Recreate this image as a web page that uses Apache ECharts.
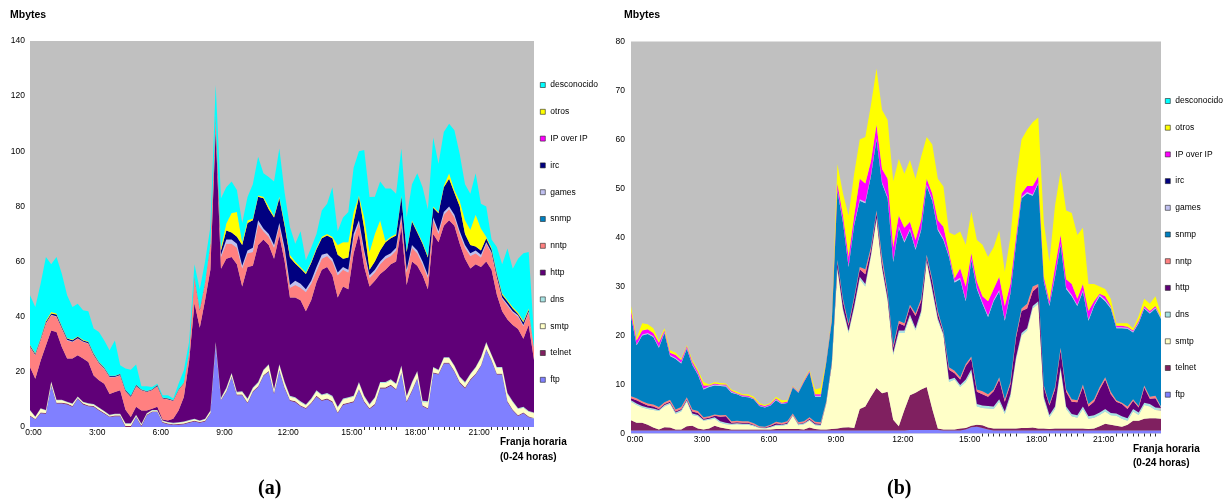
<!DOCTYPE html>
<html><head><meta charset="utf-8">
<script src="https://cdn.jsdelivr.net/npm/echarts@6/dist/echarts.min.js"></script>
<style>html,body{margin:0;padding:0;background:#fff}#c{width:1225px;height:501px}</style>
</head><body><div id="c"></div>
<script>
const cats = [
"0:00","0:15","0:30","0:45","1:00","1:15","1:30","1:45","2:00","2:15","2:30","2:45",
"3:00","3:15","3:30","3:45","4:00","4:15","4:30","4:45","5:00","5:15","5:30","5:45",
"6:00","6:15","6:30","6:45","7:00","7:15","7:30","7:45","8:00","8:15","8:30","8:45",
"9:00","9:15","9:30","9:45","10:00","10:15","10:30","10:45","11:00","11:15","11:30","11:45",
"12:00","12:15","12:30","12:45","13:00","13:15","13:30","13:45","14:00","14:15","14:30","14:45",
"15:00","15:15","15:30","15:45","16:00","16:15","16:30","16:45","17:00","17:15","17:30","17:45",
"18:00","18:15","18:30","18:45","19:00","19:15","19:30","19:45","20:00","20:15","20:30","20:45",
"21:00","21:15","21:30","21:45","22:00","22:15","22:30","22:45","23:00","23:15","23:30","23:45"];

const names = ["ftp","telnet","smtp","dns","http","nntp","snmp","games","irc","IP over IP","otros","desconocido"];

/* ---------- chart (a) ---------- */
const a_ftp = [3.9,2.7,5,4.8,15,8.5,8.5,8.2,7.3,10.3, 8.2,7.5,7.3,6,4.8,3.6,3.9,3.9,0,0, 3.6,0.2,4.2,5.4,5.4,1.5,1,0.8,0.8,1, 1.5,2,1.5,2,4.8,29.6,9.7,12.7,18,11.5, 11.5,8.6,12.7,14.5,18.5,20,12,20.5,14,9.5, 9,7.5,6.6,8.5,11,9.5,10,9,5,8, 8.5,9,13.5,9,6.5,8,14,14,15,13.5, 19.5,9,13,17.5,7.5,6.5,19.5,19,23,23, 20,16,14,17,19,22,28,24,19,19, 9,6,4,5,3.5,3];
const a_telnet = [.3,.2,.3,.3,.3,.3,.3,.3,.3,.2, .3,.3,.3,.3,.3,.2,.3,.3,.4,.4, .2,.3,.2,.2,.2,.3,.3,.2,.3,.3, .3,.3,.3,.3,.3,.3,.2,.3,.3,.3, .3,.3,.3,.3,.3,.3,.3,.3,.3,.3, .3,.3,.3,.3,.3,.3,.3,.3,.3,.3, .3,.3,.3,.3,.3,.3,.3,.3,.3,.3, .3,.3,.3,.3,.3,.3,.3,.3,.3,.3, .3,.3,.3,.3,.3,.3,.3,.3,.3,.3, .3,.3,.3,.3,.3,.3];
const a_smtp = [1.8,.7,1.3,.9,1.0,.9,.9,.5,.7,.4, .5,.6,.5,.6,.5,.4,.4,.4,.8,.8, .4,.5,.4,.4,.4,.4,.3,.3,.4,.5, .5,.5,.4,.5,.7,.6,.4,.9,1.0,.7, .9,1.1,1.0,1.2,1.7,2.2,1.2,1.7,1.7,1.2, 1.2,1.2,1.0,1.2,1.7,1.7,1.7,1.7,1.7,1.7, 1.7,1.7,2.2,1.7,1.2,2.2,1.7,1.7,1.7,1.7, 2.2,1.7,2.7,2.2,1.2,2.2,1.7,1.2,1.7,1.7, 1.7,1.7,1.7,1.7,2.2,2.7,2.2,1.7,2.2,2.2, 2.7,2.7,2.2,1.7,1.7,1.7];
const a_dns = [.2,.2,.2,.2,.2,.2,.2,.2,.2,.2, .2,.2,.2,.2,.2,.2,.2,.2,.2,.2, .2,.2,.2,.2,.2,.2,.2,.2,.2,.2, .2,.2,.2,.2,.2,.3,.3,.3,.3,.3, .3,.3,.3,.3,.3,.3,.3,.3,.3,.3, .3,.3,.3,.3,.3,.3,.3,.3,.3,.3, .3,.3,.3,.3,.3,.3,.3,.3,.3,.3, .3,.3,.3,.3,.5,.3,.3,.3,.3,.3, .3,.3,.3,.3,.3,.3,.3,.3,.3,.3, .3,.3,.3,.3,.3,.3];
const a_http = [15.6,13.7,17.2,23.4,18.5,24.6,19.1,15.6,16.3,14.9, 15.6,15,10.4,9.9,9.9,7.6,7.9,8.5,4.9,2.2, 2.9,4.8,1.0,0.4,1.1,0.3,0.6,1.5,4.3,8.9, 21.5,42,33.6,43,51,77.2,46.8,46.8,42.1,46.2, 38,47.7,44.2,49.7,47.2,43.2,47.2,46.7,43.7,35.7, 36.2,36.7,33.8,35.7,39.2,45.2,45.7,43.7,39.7,40.7, 39.2,51.7,53.7,46.7,42.7,42.2,39.2,40.7,41.7,44.2, 50.2,40.2,43.7,38.2,45.5,40.7,48.2,46.2,47.7,49.7, 50.7,48.2,44.7,38.2,37.2,32.7,29.2,30.7,26.2,20.2, 26.7,27.7,28.7,24.7,31.2,19];
const a_nntp = [7.2,8.5,7.4,7.9,5.5,5.5,6.7,6.6,6,6, 6,6.6,7.3,6,5.3,6,5.3,5.4,6.7,7.3, 7.5,7.3,6.7,6.7,7.5,7.6,7.6,6.4,7.3,4.8, 3,9,6,6,9,4,4.3,5.5,4.8,6, 6.5,5,5,7.5,3,3,4,3.5,3.5,3.5, 4.5,4.5,7,6,4,4,4,5,8,6, 6,5.5,4,5,3,3,3.5,4,3,4, 3.5,4.5,5,4.5,4,4,5,3,4,4, 3,3.5,4,4.5,4,3.5,6.5,6,6,4.5, 5,4.5,4.5,4.5,4.5,3.8];
const a_snmp = [0,0,0,0,0,0,0,0,0,0, 0,0,0,0,0,0,0,0,0,0, 0,0,0,0,0,0,0,0,0,0, 0,0,0,0,0,0,0,0,0,0, 0,0,0,0,0,0,0,0,0,0, 0,0,0,0,0,0,0,0,0,0, 0,0,0,0,0,0,0,0,0,0, 0,0,0,0,0,0,0,0,0,0, 0,0,0,0,0,0,0,0,0,0, 0,0,0,0,0,0];
const a_games = [.2,.2,.2,.2,.2,.2,.2,.2,.2,.2, .2,.2,.2,.2,.2,.2,.2,.2,.1,.1, .1,.1,.1,.1,.1,.1,.1,.1,.1,.1, .1,.2,.2,.2,.2,.3,.8,1.5,1.5,1.5, 1,1,1.5,1.5,1,1,1,1,1.5,1, 1.5,1.5,1,1,1.5,1.5,1,1,1,1, 1,1.5,1,1,1,1,1,1,1,1, 1,1,1,1,1,1,1,1,1,1, 1,1,1,1,1,1,.5,.5,.5,.5, .5,.5,.5,.5,.5,.3];
const a_irc = [.4,.4,.4,.5,.5,.6,.5,.5,.5,.5, .4,.4,.4,.3,.3,.3,.3,.3,.3,.3, .3,.2,.2,.2,.3,.2,.2,.2,.2,.2, .2,.3,.3,.3,.3,.7,1.5,3.3,2.5,2.5, 7.5,10,10,8.5,11,9,10,9,8,10, 6.3,5.5,5.5,6.5,6.5,6,6.5,7.5,6.5,3, 4.5,4.5,8.5,8,2,3,4,5,5.5,4.5, 6.5,6.5,8.5,6.5,6.5,6.5,3.5,6.5,9,10, 8,9,4,3,1.5,1.5,1.5,1,1,1, 1,1,.5,1,.5,.3];
const a_ipip = [0,0,0,0,0,0,0,0,0,0, 0,0,0,0,0,0,0,0,0,0, 0,0,0,0,0,0,0,0,0,0, 0,0,0,0,0,0,0,0,0,0, 0,0,0,0,0,0,0,0,0,0, 0,0,0,0,0,0,0,0,0,0, 0,0,0,0,0,0,0,0,0,0, 0,0,0,0,0,0,0,0,0,0, 0,0,0,0,0,0,0,0,0,0, 0,0,0,0,0,0];
const a_otros = [.2,.2,.3,.4,.5,.4,.2,.2,.2,.2, .2,.2,.2,.2,.2,.1,.1,.1,.1,.1, .1,.1,.1,.1,.1,.1,.1,.1,.1,.1, .1,.2,.2,.2,.2,.3,1,2.5,7.1,9, 1,1,.5,.5,.5,1,.5,.5,1,1, .7,.5,.5,.5,.5,.5,.5,.5,3.5,6, 5.5,3.5,.5,4,6.5,10,11,.5,.5,.5, .5,.5,.5,.5,.5,.5,.5,.5,.5,2, 1,2,5,5.5,11.5,8,.5,.5,.5,.5, .5,.5,.5,.5,.5,.3];
const a_desc = [18,16.7,19.7,23.1,17.3,20.5,19,15.5,11.8,11.8, 10.7,11,8.9,10.8,9.7,9.2,12.8,3.1,7.7,9.4, 7.4,1.1,1.7,.8,.4,.8,1.1,.5,2,4.5, 3.6,4.3,7.3,7.3,5.8,10.7,18,13.2,11.4,8, 7,8.4,12.5,14,8.5,10.7,12.5,17.5,11,10, 6.5,13,4.5,5,5,9.5,11,18,5,9, 11,16,16,24.5,19.9,13.5,14,19,17.5,14.6, 17,12,13,21,20,17,25,17.5,19.5,18, 21.6,17,13,13.1,15,9,11,3,9.3,10.5, 18.7,13.9,19.5,24.5,20.5,4.5];

/* ---------- chart (b) ---------- */
const b_ftp = [.6,.6,.6,.6,.6,.6,.6,.6,.6,.6, .6,.6,.6,.6,.6,.6,.6,.6,.6,.6, .6,.6,.6,.6,.6,.6,.6,.6,.6,.6, .6,.6,.6,.6,.6,.6,.6,.6,.6,.6, .6,.6,.6,.6,.6,.6,.6,.6,.6,.6, .7,.7,.7,.7,.7,.7,.6,.6,.6,.6, .8,1.3,1.4,1.1,.8,.6,.6,.6,.6,.6, .6,.6,.6,.6,.6,.6,.6,.6,.6,.6, .6,.6,.6,.6,.6,.6,.6,.6,.6,.6, .6,.6,.6,.6,.6,.6];
const b_telnet = [2.1,1.6,1.6,1.2,.6,.2,.7,.6,.2,.2, .9,1,.4,.2,.4,1,.6,.4,.2,.2, .2,.2,.2,.2,.2,.2,.3,.3,.3,.3, .3,.2,.6,.3,.2,.2,.3,.4,.6,.7, .5,4.4,4.9,6.9,8.7,7.6,7.9,2.2,.9,4.2, 7.1,7.6,8.3,8.8,4.3,.3,.2,.2,.2,.4, .3,.3,.4,.6,.4,.4,.4,.4,.4,.4, .5,.5,.6,.4,.4,.3,.4,.4,.4,.4, .4,.4,.3,.4,.9,1.4,1.2,1,.8,1.2, 2,2,2.4,2.5,2.5,2.4];
const b_smtp = [3.8,3.6,3.1,3.2,3.6,3.8,4.2,4.8,3.2,3.7, 5,2.2,2.5,1.8,1.8,1.4,1,.9,1,1.1, 1,1,.7,.3,.2,.4,.7,.7,.9,2.7, .8,1.1,1.4,.8,.8,5.2,13.1,32.5,23.8,19.2, 24.4,26.5,24.5,28.5,34.2,25.3,18.5,13.2,19,15.7, 16,12.7,15.5,25.5,24,22,19.2,9.7,10.2,8.5, 9.4,11,3.7,3.5,3.9,4,5.5,3,6.5,14, 18.9,19.9,24.3,25.5,6,2.4,4,12,4,2.5, 2.2,4,2.1,2.2,2.3,2.5,1.9,2,1.6,.8, 1.9,1.2,2.8,2.4,1.7,1.6];
const b_dns = [.3,.3,.3,.3,.3,.2,.3,.3,.3,.3, .3,.3,.3,.2,.2,.3,.3,.3,.2,.2, .2,.2,.2,.1,.1,.2,.2,.2,.2,.1, .2,.2,.2,.2,.2,.2,.2,.4,.5,.4, .5,.5,.5,.5,.5,.5,.5,.5,.5,.5, .5,.5,.5,.4,.5,.5,.3,.5,.4,.4, .5,.5,.5,.5,.5,.5,.5,.5,.5,.5, .5,.5,.5,.5,.5,.5,.5,.5,.5,.5, .5,.5,.5,.5,.5,.5,.5,.5,.5,.5, .5,.5,.5,.5,.5,.3];
const b_http = [.4,.7,.6,.4,.4,.2,.2,.2,.2,.2, .2,.4,.4,.2,.2,.3,.9,1.3,.2,.2, .2,.2,.1,.1,.1,.2,.3,.1,.2,.1, .1,.1,.2,.2,.2,.1,.3,1.1,1.5,1.1, 1.5,1.5,2,1,1,1,1,1,1.5,1, 1.6,2.5,2,.6,1.5,1,.4,2,.9,1.1, 2.8,2.2,2.5,2.3,1.9,3.1,4,2,2,4, 4.5,4,3,3,2,1.9,3.5,3.5,3,2.5, 2.7,4,2,2.8,4.7,6,3.8,2.4,2.5,1.9, 1.7,1,3.1,1.1,1.9,.3];
const b_nntp = [.4,.4,.4,.4,.4,.4,.4,.4,.4,.4, .4,.4,.4,.3,.3,.3,.3,.3,.3,.3, .3,.3,.3,.2,.2,.2,.3,.3,.3,.3, .3,.3,.3,.3,.3,.3,.3,.4,.5,.4, .4,.5,1,.5,.5,1,.5,.5,.5,.5, .4,.5,.5,.5,.5,.5,.3,.5,.5,.5, .4,.4,.5,.6,.5,.4,.5,.5,.5,.5, .5,1,1,.5,.3,.3,.5,.5,.5,.5, .4,.5,.5,.5,.5,.5,.5,.3,.3,.5, .3,.3,.4,.4,.5,.3];
const b_snmp = [16.4,10.8,13.4,14.2,13.8,12.1,14.1,8.9,10.3,8.9, 9.9,9.1,7.4,5.7,6,5.9,6,5.8,5.8,5.4, 5,4.9,4.9,4.1,3.9,3.9,4.4,3.8,3.7,5.3, 6,8,9.2,5.1,5.2,7.9,8.2,14.1,15.5,11.6, 14.6,13.5,13.5,14.5,14.5,15,19,17,19,16.5, 15.2,13,14,14,16,16.5,18.5,22.5,18,20, 12.8,19.7,20.5,17.9,15.8,18,17.5,16,18,18.5, 22.5,22.5,18.5,20.5,21.2,20,22.5,21,20.5,21, 19.2,19,17,19,18.5,15.5,17,14.7,15.2,15.9, 13.6,16.9,15.7,17,17.8,17.8];
const b_games = [.2,.2,.2,.2,.2,.2,.2,.2,.2,.2, .2,.2,.2,.2,.2,.2,.2,.2,.2,.1, .1,.1,.1,.1,.1,.1,.2,.1,.1,.1, .1,.1,.1,.2,.2,.1,.2,.3,.3,.3, .3,.3,.3,.3,.3,.3,.3,.3,.3,.3, .3,.3,.3,.3,.3,.3,.3,.3,.3,.3, .3,.3,.3,.3,.3,.3,.3,.3,.3,.3, .3,.3,.3,.3,.3,.3,.3,.3,.3,.3, .3,.3,.3,.3,.3,.3,.3,.2,.2,.2, .2,.2,.2,.2,.2,.2];
const b_irc = [0,0,0,0,0,0,0,0,0,0, 0,0,0,0,0,0,0,0,0,0, 0,0,0,0,0,0,0,0,0,0, 0,0,0,0,0,0,0,0,0,0, 0,0,0,0,0,0,0,0,0,0, 0,0,0,0,0,0,0,0,0,0, 0,0,0,0,0,0,0,0,0,0, 0,0,0,0,0,0,0,0,0,0, 0,0,0,0,0,0,0,0,0,0, 0,0,0,0,0,0];
const b_ipip = [.8,.8,.8,.8,.6,.8,.3,.5,.6,.5, .3,.4,.4,.6,.1,.2,.1,.2,.2,.1, .2,.2,.1,.2,.2,.2,.2,.2,.2,.1, .1,.2,.2,.3,.3,.2,.3,1.2,1.2,1.7, 1.7,4.2,3.7,2.7,2.7,2.7,3.7,2.7,2.2,2.7, 1.4,1.7,1.7,1.2,1.2,1.7,2.4,.7,.6,1.9, 2.7,1.1,1.2,1.2,2.9,2.2,2.7,2.7,1.7,1.2, .7,1.2,1.7,1.2,.7,.7,1.7,1.7,1.7,2.2, 1.2,1.2,1.7,.7,.2,.7,.2,.3,.3,.2, .2,.3,.3,.3,.3,.3];
const b_otros = [1,.5,1.5,1,1,.5,.5,.5,.5,.3, .2,.4,.4,.7,.2,.3,.3,.2,.3,.3, .2,.3,.3,.3,.2,.2,.3,.5,.3,.1, .1,.2,.2,1,1.3,.2,.5,4,4.5,8.5, 8.5,8,9.5,11.5,11.5,12,12,13.5,11.5,11, 12.6,12.5,13,8.5,10,8.5,8.2,4,8.8,7.5, 8.5,8.5,8.5,10.5,9,8.5,9.5,7,9.5,12, 11,11.5,13,12,11,8,12.5,13,14,14.5, 13,11.5,5.5,3.5,1.5,1.5,1.5,.5,.5,.7, .5,1,1.5,1.5,2,.7];
const b_desc = [0,0,0,0,0,0,0,0,0,0, 0,0,0,0,0,0,0,0,0,0, 0,0,0,0,0,0,0,0,0,0, 0,0,0,0,0,0,0,0,0,0, 0,0,0,0,0,0,0,0,0,0, 0,0,0,0,0,0,0,0,0,0, 0,0,0,0,0,0,0,0,0,0, 0,0,0,0,0,0,0,0,0,0, 0,0,0,0,0,0,0,0,0,0, 0,0,0,0,0,0];

const dataA = [a_ftp,a_telnet,a_smtp,a_dns,a_http,a_nntp,a_snmp,a_games,a_irc,a_ipip,a_otros,a_desc];
const dataB = [b_ftp,b_telnet,b_smtp,b_dns,b_http,b_nntp,b_snmp,b_games,b_irc,b_ipip,b_otros,b_desc];

const colors = ["#8080FF","#802060","#FFFFC8","#A8E4E4","#600078","#FF8080","#0080C0","#C0C0F0","#000080","#FF00FF","#FFFF00","#00FFFF"];
const FONT = "'Liberation Sans', Arial, sans-serif";

function mkSeries(arrs, idx) {
  return arrs.map((d, k) => ({
    name: names[k], type: 'line', xAxisIndex: idx, yAxisIndex: idx, stack: 'st' + idx,
    data: d, symbol: 'none', showSymbol: false, smooth: false,
    lineStyle: { width: 0 }, itemStyle: { color: colors[k] },
    areaStyle: { color: colors[k], opacity: 1 }, emphasis: { disabled: true }
  }));
}

const tickFn = (i) => i >= 63 && !(i >= 70 && i <= 74) && !(i >= 82 && i <= 86) && i < 95;

function xAx(g, pad, margin) {
  return { gridIndex: g, type: 'category', boundaryGap: false, data: cats,
    axisLine: { show: false },
    axisTick: { show: true, interval: tickFn, length: 3, lineStyle: { color: '#333', width: 1 } },
    axisLabel: { interval: 11, fontSize: 8.5, color: '#000', margin: margin, padding: [0,0,0,pad], fontFamily: FONT },
    splitLine: { show: false } };
}
function yAx(g, max, step, margin) {
  return { gridIndex: g, type: 'value', min: 0, max: max, interval: step,
    axisLine: { show: false }, axisTick: { show: false }, splitLine: { show: false },
    axisLabel: { fontSize: 8.5, color: '#000', margin: margin, fontFamily: FONT } };
}
const legendNames = names.slice().reverse();
function leg(left, top, gap) {
  return { orient: 'vertical', left: left, top: top, padding: 0, itemGap: gap,
    itemWidth: 5, itemHeight: 5, icon: 'rect', data: legendNames, selectedMode: false,
    itemStyle: { borderColor: '#222', borderWidth: 0.6 },
    textStyle: { fontSize: 8.5, color: '#000', fontFamily: FONT, lineHeight: 10 } };
}

const chart = echarts.init(document.getElementById('c'), null, { renderer: 'canvas' });
chart.setOption({
  animation: false,
  backgroundColor: '#fff',
  title: [
    { text: 'Mbytes', left: 10, top: 10, padding: 0, textStyle: { fontSize: 10.5, fontWeight: 'bold', color: '#000', fontFamily: FONT } },
    { text: 'Mbytes', left: 624, top: 10, padding: 0, textStyle: { fontSize: 10.5, fontWeight: 'bold', color: '#000', fontFamily: FONT } },
    { text: 'Franja horaria\n(0-24 horas)', left: 500, top: 435, padding: 0, textStyle: { fontSize: 10, fontWeight: 'bold', color: '#000', lineHeight: 15, fontFamily: FONT } },
    { text: 'Franja horaria\n(0-24 horas)', left: 1133, top: 442, padding: 0, textStyle: { fontSize: 10, fontWeight: 'bold', color: '#000', lineHeight: 14, fontFamily: FONT } },
    { text: '(a)', left: 258, top: 479, padding: 0, textStyle: { fontSize: 20, fontWeight: 'bold', color: '#000', fontFamily: "'Liberation Serif', 'Times New Roman', serif" } },
    { text: '(b)', left: 887, top: 479, padding: 0, textStyle: { fontSize: 20, fontWeight: 'bold', color: '#000', fontFamily: "'Liberation Serif', 'Times New Roman', serif" } }
  ],
  legend: [ leg(540, 80, 16.8), leg(1165, 96, 16.7) ],
  grid: [
    { left: 30, top: 41, width: 504, height: 386, show: true, backgroundColor: '#C0C0C0', borderWidth: 0 },
    { left: 631, top: 41.5, width: 530, height: 392, show: true, backgroundColor: '#C0C0C0', borderWidth: 0 }
  ],
  xAxis: [ xAx(0, 7, 1), xAx(1, 8, 2) ],
  yAxis: [ yAx(0, 140, 20, 5), yAx(1, 80, 10, 6) ],
  series: mkSeries(dataA, 0).concat(mkSeries(dataB, 1))
});
</script>
</body></html>
